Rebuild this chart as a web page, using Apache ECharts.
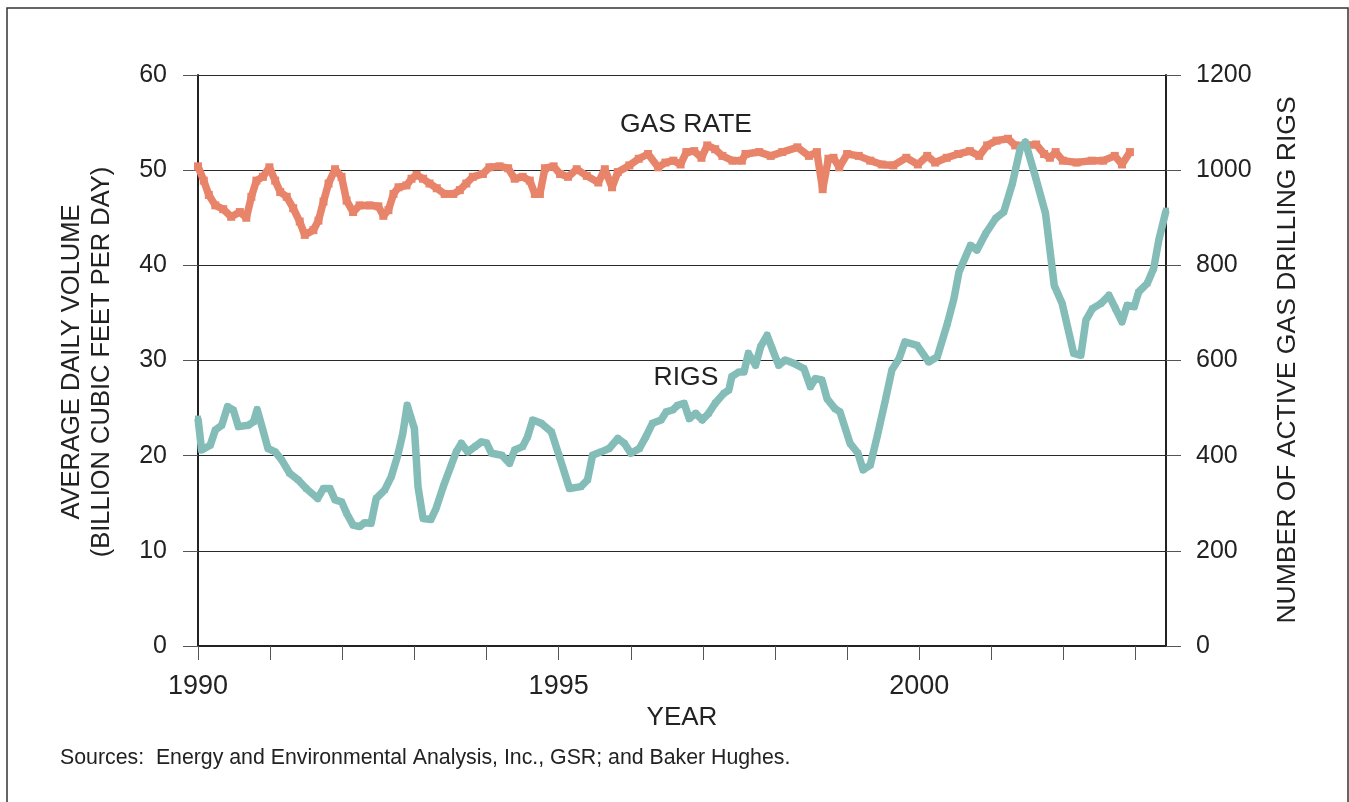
<!DOCTYPE html>
<html>
<head>
<meta charset="utf-8">
<script src="https://cdn.jsdelivr.net/npm/echarts@6/dist/echarts.min.js"></script>
<style>
html,body{margin:0;padding:0;background:#fff;}
#chart{width:1349px;height:802px;}
</style>
</head>
<body>
<div id="chart"></div>
<script>
// ---- data ----
const yearTicks = [1990,1991,1992,1993,1994,1995,1996,1997,1998,1999,2000,2001,2002,2003];
const yearLabels = [1990,1995,2000];
const leftTicks = [0,10,20,30,40,50,60];
const rightTicks = [0,200,400,600,800,1000,1200];

const gasYear = [1990.0,1990.08,1990.15,1990.24,1990.35,1990.46,1990.58,1990.67,1990.74,1990.81,1990.9,1990.99,
  1991.07,1991.14,1991.23,1991.32,1991.41,1991.48,1991.6,1991.67,1991.74,1991.81,1991.9,1991.99,
  1992.06,1992.15,1992.24,1992.38,1992.5,1992.57,1992.64,1992.71,1992.78,1992.89,1992.96,
  1993.03,1993.12,1993.21,1993.31,1993.42,1993.54,1993.63,1993.72,1993.81,1993.95,
  1994.04,1994.18,1994.3,1994.39,1994.5,1994.6,1994.67,1994.74,1994.81,1994.93,
  1995.02,1995.13,1995.25,1995.39,1995.55,1995.64,1995.74,1995.82,1995.98,
  1996.11,1996.24,1996.38,1996.48,1996.59,1996.69,1996.77,1996.88,1996.98,
  1997.06,1997.17,1997.27,1997.41,1997.54,1997.59,1997.78,1997.94,
  1998.1,1998.31,1998.47,1998.58,1998.66,1998.74,1998.81,1998.89,
  1999.0,1999.16,1999.32,1999.48,1999.64,1999.82,1999.98,
  2000.11,2000.22,2000.38,2000.54,2000.7,2000.83,2000.94,
  2001.07,2001.23,2001.33,2001.49,2001.62,2001.73,2001.81,2001.89,2001.99,
  2002.18,2002.39,2002.55,2002.71,2002.81,2002.92];
const gasRate = [50.4,48.9,47.4,46.3,45.9,45.1,45.6,45.0,47.2,48.9,49.3,50.3,
  48.9,47.7,47.2,46.0,44.6,43.2,43.7,44.7,46.7,48.6,50.1,49.3,
  46.8,45.6,46.3,46.3,46.2,45.2,45.8,47.5,48.2,48.4,49.1,
  49.5,49.1,48.6,48.1,47.5,47.5,47.9,48.6,49.3,49.6,
  50.3,50.4,50.2,49.1,49.3,48.9,47.5,47.5,50.2,50.4,
  49.6,49.3,50.1,49.4,48.7,50.1,48.2,49.8,50.5,
  51.2,51.7,50.3,50.8,51.0,50.6,51.9,52.0,51.3,
  52.6,52.2,51.5,51.0,51.0,51.7,51.9,51.5,
  51.9,52.4,51.5,51.9,48.0,51.2,51.3,50.3,
  51.7,51.5,51.0,50.6,50.5,51.3,50.6,
  51.5,50.8,51.3,51.7,52.0,51.5,52.6,
  53.1,53.3,52.6,52.6,52.7,51.7,51.3,51.9,51.0,
  50.8,51.0,51.0,51.5,50.6,51.9];

const rigYear = [1990.0,1990.05,1990.17,1990.24,1990.33,1990.41,1990.49,1990.56,1990.7,1990.77,1990.82,1990.9,1990.97,
  1991.07,1991.16,1991.27,1991.39,1991.5,1991.66,1991.74,1991.83,1991.9,1991.99,
  1992.06,1992.15,1992.24,1992.31,1992.4,1992.47,1992.59,1992.68,1992.77,1992.84,1992.9,
  1993.0,1993.05,1993.12,1993.23,1993.3,1993.4,1993.51,1993.58,1993.65,1993.74,1993.84,1993.93,
  1994.0,1994.07,1994.21,1994.32,1994.39,1994.5,1994.57,1994.64,1994.76,1994.9,
  1995.01,1995.15,1995.31,1995.4,1995.47,1995.59,1995.7,1995.82,1995.91,
  1996.0,1996.12,1996.21,1996.3,1996.42,1996.49,1996.58,1996.65,1996.74,1996.81,1996.9,1996.99,
  1997.08,1997.17,1997.29,1997.36,1997.4,1997.5,1997.57,1997.63,1997.73,1997.8,1997.89,1997.96,
  1998.05,1998.14,1998.26,1998.4,1998.49,1998.56,1998.65,1998.72,1998.83,1998.9,
  1999.04,1999.15,1999.22,1999.32,1999.42,1999.53,1999.62,1999.72,1999.8,1999.97,
  2000.13,2000.25,2000.39,2000.48,2000.55,2000.71,2000.8,2000.92,
  2001.06,2001.17,2001.29,2001.4,2001.47,2001.61,2001.75,2001.87,2001.98,
  2002.14,2002.24,2002.31,2002.4,2002.52,2002.63,2002.72,2002.81,2002.88,2002.98,
  2003.04,2003.16,2003.25,2003.32,2003.42];
const rigCount = [478,412,422,454,464,503,496,461,464,471,497,454,415,
  408,391,363,349,331,310,331,331,307,303,
  279,254,251,259,258,310,328,356,401,447,506,
  457,335,268,266,289,335,380,408,426,408,419,429,
  427,405,401,384,412,419,440,475,468,450,
  398,331,335,349,401,408,415,436,426,
  405,415,440,468,475,492,496,506,510,478,489,475,
  489,510,531,538,566,576,576,615,590,629,653,625,
  590,601,594,583,545,562,559,520,499,492,
  426,405,370,380,443,517,580,604,639,632,
  597,608,678,730,786,842,832,867,
  899,912,972,1046,1059,986,909,758,720,
  615,611,685,709,720,737,709,681,716,713,
  744,762,794,853,915];

const gasColor = '#E8846A';
const rigColor = '#84BDB8';
const ink = '#222222';
const FONT = '"Liberation Sans", Arial, Helvetica, sans-serif';

const chart = echarts.init(document.getElementById('chart'), null, {renderer: 'canvas'});

const option = {
  backgroundColor: '#ffffff',
  animation: false,
  textStyle: {fontFamily: FONT},
  grid: {left: 198, top: 75, right: 183, bottom: 156, containLabel: false},
  xAxis: {
    type: 'value',
    min: 1990,
    max: 2003.42,
    interval: 1,
    name: 'YEAR',
    nameLocation: 'middle',
    nameGap: 57,
    nameTextStyle: {fontSize: 26, color: ink, fontFamily: FONT},
    axisLine: {show: true, onZero: false, lineStyle: {color: ink, width: 2}},
    axisTick: {show: true, length: 14, lineStyle: {color: '#555', width: 1}, customValues: yearTicks},
    axisLabel: {fontSize: 27, color: ink, margin: 27, fontFamily: FONT, customValues: yearLabels,
      formatter: v => String(Math.round(v))},
    splitLine: {show: false}
  },
  yAxis: [
    {
      type: 'value', min: 0, max: 60, interval: 10, position: 'left',
      axisLine: {show: true, lineStyle: {color: ink, width: 2}},
      axisTick: {show: true, length: 15, lineStyle: {color: '#555', width: 1}},
      axisLabel: {fontSize: 25, color: ink, margin: 31, fontFamily: FONT, formatter: v => String(v)},
      splitLine: {show: true, lineStyle: {color: '#2a2a2a', width: 1}}
    },
    {
      type: 'value', min: 0, max: 1200, interval: 200, position: 'right',
      axisLine: {show: true, lineStyle: {color: ink, width: 2}},
      axisTick: {show: true, length: 15, lineStyle: {color: '#555', width: 1}},
      axisLabel: {fontSize: 25, color: ink, margin: 30, fontFamily: FONT, formatter: v => String(v)},
      splitLine: {show: false}
    }
  ],
  series: [
    {
      name: 'GAS RATE', type: 'line', yAxisIndex: 0,
      data: gasYear.map((x, i) => [x, gasRate[i]]),
      symbol: 'rect', symbolSize: 8, showSymbol: true,
      itemStyle: {color: gasColor},
      lineStyle: {color: gasColor, width: 7.5, join: 'bevel'},
      z: 3
    },
    {
      name: 'RIGS', type: 'line', yAxisIndex: 1,
      data: rigYear.map((x, i) => [x, rigCount[i]]),
      symbol: 'rect', symbolSize: 6, showSymbol: true,
      itemStyle: {color: rigColor},
      lineStyle: {color: rigColor, width: 7.5, join: 'round'},
      z: 4
    }
  ],
  graphic: [
    {type: 'rect', shape: {x: 7, y: 8, width: 1341, height: 810}, style: {fill: 'none', stroke: '#333', lineWidth: 1.5}, z: -1},
    {type: 'text', x: 87, y: 362, rotation: Math.PI / 2,
      style: {text: 'AVERAGE DAILY VOLUME\n(BILLION CUBIC FEET PER DAY)', font: '25.5px ' + FONT, fill: ink,
        textAlign: 'center', textVerticalAlign: 'middle', lineHeight: 30}},
    {type: 'text', x: 1288, y: 360, rotation: Math.PI / 2,
      style: {text: 'NUMBER OF ACTIVE GAS DRILLING RIGS', font: '26.5px ' + FONT, fill: ink,
        textAlign: 'center', textVerticalAlign: 'middle'}},
    {type: 'text', x: 686, y: 125,
      style: {text: 'GAS RATE', font: '26.5px ' + FONT, fill: ink, textAlign: 'center', textVerticalAlign: 'middle'}},
    {type: 'text', x: 686, y: 378,
      style: {text: 'RIGS', font: '26.5px ' + FONT, fill: ink, textAlign: 'center', textVerticalAlign: 'middle'}},
    {type: 'text', x: 60, y: 758,
      style: {text: 'Sources:  Energy and Environmental Analysis, Inc., GSR; and Baker Hughes.', font: '21.3px ' + FONT, fill: ink,
        textAlign: 'left', textVerticalAlign: 'middle'}}
  ]
};
chart.setOption(option);
</script>
</body>
</html>
